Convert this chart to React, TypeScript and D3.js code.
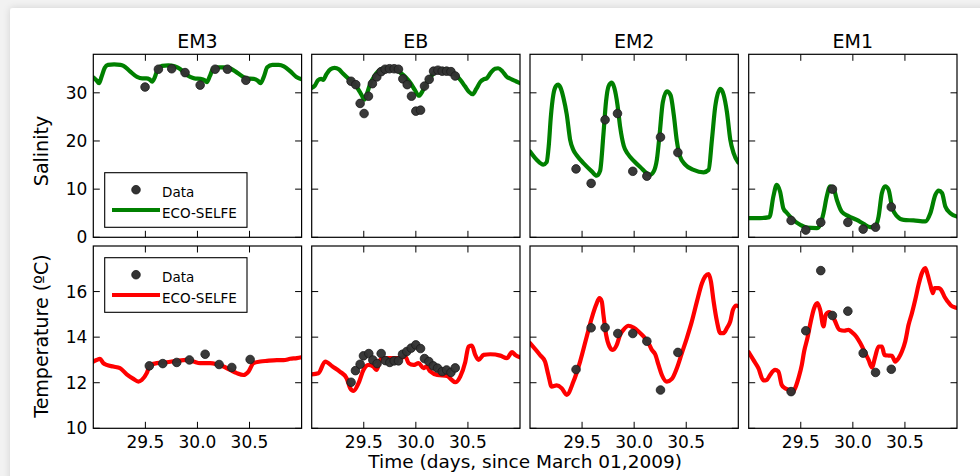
import React from 'react';
import * as d3 from 'd3';

type Pt = [number, number];

const stations = ['EM3', 'EB', 'EM2', 'EM1'];
const xDomain: [number, number] = [29, 31];
const xTicks = [29.5, 30.0, 30.5];
const salDomain: [number, number] = [0, 38];
const salTicks = [0, 10, 20, 30];
const tempDomain: [number, number] = [10, 18];
const tempTicks = [10, 12, 14, 16];

// ECO-SELFE modelled salinity, [day, psu]
const modelSalEM3: Pt[] = [
  [29.0, 33.2], [29.03, 32.6], [29.055, 32.0], [29.08, 33.4], [29.11, 35.2], [29.14, 35.8], [29.2, 35.9],
  [29.26, 35.8], [29.29, 35.6], [29.35, 34.5], [29.42, 33.3], [29.47, 33.0], [29.51, 33.0], [29.54, 32.8],
  [29.565, 32.3], [29.59, 33.2], [29.62, 35.0], [29.66, 35.6], [29.72, 35.7], [29.78, 35.5], [29.83, 35.0],
  [29.88, 34.0], [29.93, 33.3], [29.97, 33.0], [30.03, 32.9], [30.07, 32.6], [30.09, 32.2], [30.12, 33.5],
  [30.15, 35.0], [30.2, 35.3], [30.26, 35.3], [30.31, 35.1], [30.38, 34.2], [30.47, 33.0], [30.54, 32.9],
  [30.58, 32.5], [30.605, 32.0], [30.64, 33.5], [30.67, 35.3], [30.72, 35.8], [30.78, 35.8], [30.83, 35.5],
  [30.89, 34.5], [30.95, 33.3], [31.0, 32.8],
];
const modelSalEB: Pt[] = [
  [29.0, 31.0], [29.03, 31.5], [29.06, 32.6], [29.09, 32.9], [29.11, 32.7], [29.14, 33.8], [29.18, 34.9],
  [29.22, 35.2], [29.26, 34.9], [29.3, 34.0], [29.35, 33.0], [29.4, 32.2], [29.44, 31.0], [29.48, 29.5],
  [29.505, 28.6], [29.53, 29.8], [29.56, 31.8], [29.6, 33.4], [29.64, 34.5], [29.68, 35.0], [29.74, 35.2],
  [29.8, 35.0], [29.85, 34.2], [29.9, 33.3], [29.95, 32.0], [29.99, 30.6], [30.03, 29.4], [30.06, 30.2],
  [30.1, 32.0], [30.14, 33.2], [30.18, 34.3], [30.22, 34.7], [30.28, 34.8], [30.33, 34.6], [30.38, 33.8],
  [30.43, 32.6], [30.47, 31.4], [30.51, 30.2], [30.545, 29.7], [30.58, 30.8], [30.62, 32.3], [30.65, 32.8],
  [30.68, 33.0], [30.72, 34.2], [30.76, 35.0], [30.79, 35.1], [30.83, 34.5], [30.87, 33.4], [30.92, 32.8],
  [30.96, 32.4], [31.0, 32.0],
];
const modelSalEM2: Pt[] = [
  [29.0, 17.8], [29.064, 16.1], [29.128, 15.1], [29.16, 15.6], [29.18, 19.0], [29.2, 25.0], [29.224, 29.6],
  [29.25, 31.4], [29.27, 31.7], [29.29, 31.2], [29.321, 29.0], [29.353, 25.5], [29.385, 20.3], [29.417, 18.1],
  [29.45, 17.0], [29.513, 15.4], [29.593, 13.7], [29.641, 12.8], [29.673, 13.8], [29.705, 21.4], [29.73, 28.2],
  [29.755, 31.4], [29.785, 32.1], [29.81, 31.0], [29.84, 27.5], [29.865, 23.0], [29.9, 19.0], [29.94, 17.3],
  [30.0, 15.8], [30.058, 14.6], [30.154, 13.0], [30.186, 13.6], [30.218, 16.1], [30.245, 21.5], [30.275, 28.0],
  [30.314, 30.3], [30.35, 29.5], [30.38, 25.5], [30.41, 20.0], [30.44, 16.8], [30.49, 15.1], [30.571, 14.0],
  [30.667, 13.5], [30.715, 14.0], [30.747, 20.3], [30.779, 27.2], [30.827, 30.8], [30.859, 29.6], [30.891, 26.0],
  [30.923, 20.3], [30.955, 17.5], [31.0, 15.5],
];
const modelSalEM1: Pt[] = [
  [29.0, 4.0], [29.109, 4.0], [29.199, 4.2], [29.237, 8.5], [29.269, 10.9], [29.301, 9.5], [29.333, 6.0],
  [29.365, 5.1], [29.429, 3.6], [29.494, 2.6], [29.558, 2.0], [29.654, 1.9], [29.686, 2.6], [29.718, 5.0],
  [29.75, 8.5], [29.782, 10.6], [29.814, 10.2], [29.846, 7.8], [29.894, 5.3], [29.958, 4.4], [30.038, 3.6],
  [30.103, 2.8], [30.167, 2.1], [30.215, 2.2], [30.247, 4.3], [30.279, 9.2], [30.311, 10.6], [30.343, 9.9],
  [30.375, 6.4], [30.423, 4.4], [30.487, 3.6], [30.583, 3.5], [30.696, 3.3], [30.744, 5.0], [30.792, 8.8],
  [30.824, 9.7], [30.856, 9.2], [30.888, 6.4], [30.936, 5.0], [31.0, 4.3],
];

// Observed salinity
const dataSalEM3: Pt[] = [
  [29.497, 31.2], [29.625, 34.9], [29.753, 35.0], [29.881, 34.2], [30.026, 31.6], [30.17, 34.9], [30.288, 34.9],
  [30.465, 32.6],
];
const dataSalEB: Pt[] = [
  [29.378, 32.4], [29.423, 31.7], [29.465, 27.8], [29.503, 25.7], [29.545, 29.3], [29.583, 31.9], [29.625, 33.3],
  [29.667, 34.4], [29.705, 34.9], [29.747, 35.0], [29.792, 35.0], [29.833, 34.9], [29.875, 32.9], [29.917, 31.7],
  [29.958, 29.3], [30.0, 26.2], [30.045, 26.4], [30.083, 31.4], [30.128, 32.8], [30.17, 34.5], [30.212, 34.7],
  [30.253, 34.5], [30.295, 34.5], [30.337, 34.4], [30.378, 33.5],
];
const dataSalEM2: Pt[] = [
  [29.442, 14.2], [29.587, 11.2], [29.721, 24.4], [29.84, 25.7], [29.987, 13.7], [30.122, 12.7], [30.253, 20.8],
  [30.42, 17.6],
];
const dataSalEM1: Pt[] = [
  [29.407, 3.5], [29.548, 1.5], [29.692, 3.1], [29.804, 10.0], [29.952, 3.1], [30.099, 1.7], [30.218, 2.1],
  [30.369, 6.3],
];

// ECO-SELFE modelled temperature, [day, degC]
const modelTempEM3: Pt[] = [
  [29.0, 12.93], [29.032, 13.0], [29.064, 13.05], [29.096, 12.86], [29.128, 12.78], [29.192, 12.71],
  [29.256, 12.64], [29.321, 12.37], [29.385, 12.17], [29.433, 12.05], [29.465, 12.12], [29.513, 12.42],
  [29.545, 12.78], [29.609, 12.86], [29.705, 12.9], [29.801, 12.96], [29.897, 13.0], [29.962, 12.93],
  [30.026, 12.86], [30.122, 12.86], [30.186, 12.81], [30.25, 12.71], [30.314, 12.56], [30.378, 12.42],
  [30.442, 12.34], [30.49, 12.49], [30.538, 12.86], [30.603, 12.93], [30.667, 12.96], [30.763, 12.99],
  [30.827, 12.99], [30.891, 13.05], [30.955, 13.08], [31.0, 13.12],
];
const modelTempEB: Pt[] = [
  [29.0, 12.37], [29.064, 12.42], [29.13, 12.93], [29.2, 12.71], [29.27, 12.49], [29.335, 12.2],
  [29.369, 11.76], [29.401, 11.64], [29.45, 11.98], [29.497, 12.56], [29.545, 12.78], [29.59, 12.71],
  [29.625, 12.56], [29.657, 13.0], [29.69, 13.08], [29.753, 13.08], [29.85, 13.08], [29.9, 13.15],
  [29.93, 12.86], [29.978, 12.78], [30.026, 12.86], [30.074, 12.64], [30.1, 12.71], [30.14, 12.49],
  [30.205, 12.34], [30.3, 12.3], [30.346, 12.12], [30.378, 12.02], [30.426, 12.27], [30.474, 12.9],
  [30.506, 13.59], [30.538, 13.63], [30.57, 13.22], [30.603, 13.0], [30.65, 13.22], [30.715, 13.25],
  [30.811, 13.19], [30.875, 13.08], [30.923, 13.34], [30.955, 13.22], [31.0, 13.11],
];
const modelTempEM2: Pt[] = [
  [29.0, 13.74], [29.096, 13.22], [29.144, 12.93], [29.176, 12.34], [29.208, 11.83], [29.256, 11.88],
  [29.304, 11.76], [29.353, 11.47], [29.417, 12.05], [29.481, 12.93], [29.545, 14.03], [29.593, 14.84],
  [29.635, 15.42], [29.667, 15.71], [29.689, 15.57], [29.705, 14.98], [29.731, 14.1], [29.763, 13.59],
  [29.795, 13.44], [29.833, 13.66], [29.865, 14.1], [29.897, 14.32], [29.946, 14.5], [29.994, 14.42],
  [30.042, 14.25], [30.09, 14.03], [30.138, 13.74], [30.17, 13.44], [30.202, 13.25], [30.234, 12.78],
  [30.266, 12.34], [30.314, 12.05], [30.362, 12.17], [30.41, 12.64], [30.458, 13.3], [30.506, 13.96],
  [30.554, 14.69], [30.603, 15.57], [30.651, 16.37], [30.683, 16.67], [30.715, 16.77], [30.737, 16.45],
  [30.763, 15.57], [30.795, 14.69], [30.827, 14.18], [30.859, 14.18], [30.891, 14.4], [30.923, 14.69],
  [30.949, 15.2], [30.981, 15.39], [31.0, 15.35],
];
const modelTempEM1: Pt[] = [
  [29.0, 13.34], [29.045, 13.0], [29.093, 12.64], [29.141, 12.1], [29.173, 12.12], [29.205, 12.34],
  [29.253, 12.56], [29.285, 12.49], [29.317, 11.9], [29.349, 11.76], [29.381, 11.69], [29.413, 11.54],
  [29.446, 11.76], [29.478, 12.2], [29.51, 12.78], [29.532, 13.37], [29.564, 13.96], [29.596, 14.69],
  [29.628, 15.27], [29.66, 15.49], [29.686, 15.2], [29.718, 14.47], [29.74, 14.98], [29.772, 15.1],
  [29.804, 14.98], [29.83, 14.69], [29.872, 14.32], [29.917, 14.28], [29.958, 14.32], [29.99, 14.22],
  [30.032, 14.03], [30.071, 13.74], [30.119, 13.3], [30.151, 13.0], [30.183, 12.67], [30.215, 13.15],
  [30.247, 13.59], [30.279, 13.59], [30.304, 13.22], [30.343, 13.19], [30.375, 13.18], [30.407, 12.93],
  [30.439, 13.08], [30.471, 13.37], [30.503, 13.81], [30.535, 14.54], [30.567, 15.05], [30.599, 15.64],
  [30.631, 16.3], [30.663, 16.81], [30.696, 17.03], [30.718, 16.74], [30.744, 16.3], [30.769, 15.93],
  [30.785, 16.15], [30.824, 16.15], [30.856, 16.01], [30.878, 15.79], [30.91, 15.57], [30.942, 15.39],
  [30.984, 15.3], [31.0, 15.28],
];

// Observed temperature
const dataTempEM3: Pt[] = [
  [29.538, 12.74], [29.667, 12.84], [29.801, 12.89], [29.923, 13.0], [30.074, 13.25], [30.208, 12.8],
  [30.33, 12.67], [30.506, 13.02],
];
const dataTempEB: Pt[] = [
  [29.378, 12.02], [29.42, 12.53], [29.465, 12.81], [29.497, 13.18], [29.548, 13.28], [29.587, 13.0],
  [29.628, 12.84], [29.667, 13.28], [29.708, 12.97], [29.75, 12.89], [29.792, 12.96], [29.833, 12.96],
  [29.872, 13.25], [29.913, 13.37], [29.955, 13.52], [30.0, 13.66], [30.045, 13.5], [30.083, 13.06],
  [30.125, 12.93], [30.167, 12.74], [30.208, 12.64], [30.253, 12.49], [30.295, 12.56], [30.337, 12.45],
  [30.378, 12.65],
];
const dataTempEM2: Pt[] = [
  [29.442, 12.58], [29.587, 14.41], [29.721, 14.42], [29.843, 14.16], [29.987, 14.16], [30.122, 13.82],
  [30.253, 11.68], [30.42, 13.33],
];
const dataTempEM1: Pt[] = [
  [29.407, 11.61], [29.548, 14.28], [29.692, 16.92], [29.804, 14.95], [29.952, 15.14], [30.099, 13.3],
  [30.218, 12.45], [30.369, 12.59],
];

const modelSal = [modelSalEM3, modelSalEB, modelSalEM2, modelSalEM1];
const dataSal = [dataSalEM3, dataSalEB, dataSalEM2, dataSalEM1];
const modelTemp = [modelTempEM3, modelTempEB, modelTempEM2, modelTempEM1];
const dataTemp = [dataTempEM3, dataTempEB, dataTempEM2, dataTempEM1];

const W = 980;
const H = 476;
const panelLeft = [93.3, 311.7, 530, 748.7];
const panelW = 208.3;
const rows = [
  { top: 54.3, h: 183, domain: salDomain, ticks: salTicks, color: '#008000', label: 'Salinity', labelY: 151, legendY: 118.4, model: modelSal, data: dataSal },
  { top: 246, h: 182.3, domain: tempDomain, ticks: tempTicks, color: '#ff0000', label: 'Temperature (\u00baC)', labelY: 336, legendY: 11.7, model: modelTemp, data: dataTemp },
];
const FONT = 'DejaVu Sans, Liberation Sans, sans-serif';
const TICK = 6.5;

function Legend({ color, top }: { color: string; top: number }) {
  return (
    <g transform={`translate(11.4,${top})`}>
      <rect x={0} y={0} width={142.3} height={54.6} fill="#fff" stroke="#000" strokeWidth={1.1} />
      <circle cx={31.3} cy={17} r={4.3} fill="#333" stroke="#1a1a1a" strokeWidth={0.8} />
      <text x={57.3} y={24} fontSize={13.5} fontFamily={FONT} fill="#000">Data</text>
      <line x1={7.3} x2={55.3} y1={37.3} y2={37.3} stroke={color} strokeWidth={4.2} />
      <text x={57.3} y={45} fontSize={13.5} fontFamily={FONT} fill="#000">ECO-SELFE</text>
    </g>
  );
}

export default function App() {
  const x = d3.scaleLinear().domain(xDomain).range([0, panelW]);
  return (
    <svg width={W} height={H} style={{ position: 'absolute', left: 0, top: 0, display: 'block' }}>
      <defs>
        <filter id="cardShadow" x="-5%" y="-5%" width="110%" height="110%">
          <feDropShadow dx={0} dy={0} stdDeviation={3.5} floodColor="#000" floodOpacity={0.14} />
        </filter>
        {rows.map((r, ri) =>
          stations.map((s, si) => (
            <clipPath id={`clip-${ri}-${si}`} key={`${ri}-${si}`}>
              <rect x={0} y={0} width={panelW} height={r.h} />
            </clipPath>
          ))
        )}
      </defs>
      <rect x={0} y={0} width={W} height={H} fill="#f2f2f2" />
      <rect x={10} y={8} width={W + 20} height={H + 20} rx={3} fill="#fff" filter="url(#cardShadow)" />

      {stations.map((s, si) => (
        <text key={s} x={panelLeft[si] + panelW / 2} y={48} textAnchor="middle" fontSize={19} fontFamily={FONT} fill="#000">
          {s}
        </text>
      ))}

      {rows.map((r, ri) => {
        const y = d3.scaleLinear().domain(r.domain).range([r.h, 0]);
        const line = d3
          .line<Pt>()
          .x((d) => x(d[0]))
          .y((d) => y(d[1]))
          .curve(d3.curveMonotoneX);
        return (
          <g key={ri}>
            <text
              transform={`translate(47.5,${r.labelY}) rotate(-90)`}
              textAnchor="middle"
              fontSize={19}
              fontFamily={FONT}
              fill="#000"
            >
              {r.label}
            </text>
            {stations.map((s, si) => (
              <g key={s} transform={`translate(${panelLeft[si]},${r.top})`}>
                <g clipPath={`url(#clip-${ri}-${si})`}>
                  <path d={line(r.model[si]) || ''} fill="none" stroke={r.color} strokeWidth={4.2} strokeLinejoin="round" strokeLinecap="round" />
                  {r.data[si].map((d, i) => (
                    <circle key={i} cx={x(d[0])} cy={y(d[1])} r={4.3} fill="#333" fillOpacity={0.97} stroke="#1a1a1a" strokeWidth={0.8} />
                  ))}
                </g>
                {xTicks.map((t) => (
                  <g key={t}>
                    <line x1={x(t)} x2={x(t)} y1={r.h} y2={r.h - TICK} stroke="#000" strokeWidth={1} />
                    <line x1={x(t)} x2={x(t)} y1={0} y2={TICK} stroke="#000" strokeWidth={1} />
                  </g>
                ))}
                {r.ticks.map((t) => (
                  <g key={t}>
                    <line x1={0} x2={TICK} y1={y(t)} y2={y(t)} stroke="#000" strokeWidth={1} />
                    <line x1={panelW} x2={panelW - TICK} y1={y(t)} y2={y(t)} stroke="#000" strokeWidth={1} />
                  </g>
                ))}
                <rect x={0} y={0} width={panelW} height={r.h} fill="none" stroke="#000" strokeWidth={1.2} />
                {si === 0 &&
                  r.ticks.map((t) => (
                    <text key={t} x={-6} y={y(t)} dy="0.36em" textAnchor="end" fontSize={17} fontFamily={FONT} fill="#000">
                      {t}
                    </text>
                  ))}
                {ri === 1 &&
                  xTicks.map((t) => (
                    <text key={t} x={x(t)} y={r.h + 20} textAnchor="middle" fontSize={17} fontFamily={FONT} fill="#000">
                      {d3.format('.1f')(t)}
                    </text>
                  ))}
                {si === 0 && <Legend color={r.color} top={r.legendY} />}
              </g>
            ))}
          </g>
        );
      })}

      <text x={(panelLeft[0] + panelLeft[3] + panelW) / 2} y={468} textAnchor="middle" fontSize={18.5} fontFamily={FONT} fill="#000">
        Time (days, since March 01,2009)
      </text>
    </svg>
  );
}
